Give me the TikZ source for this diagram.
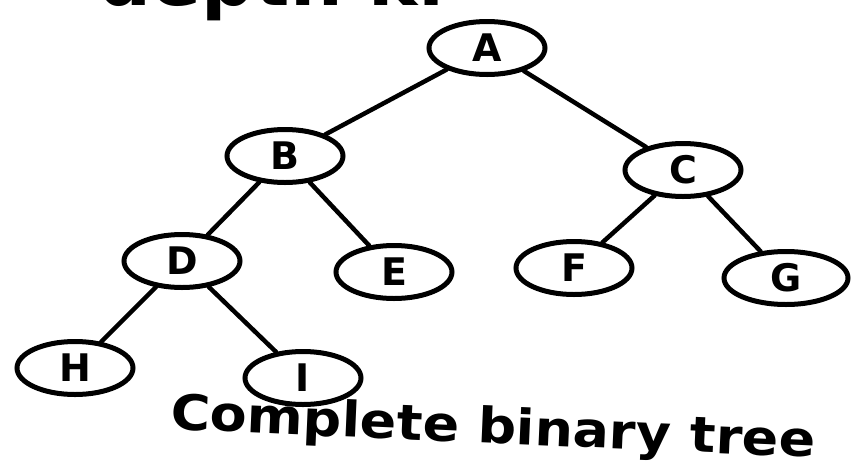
\documentclass[tikz,border=0pt]{standalone}
\usepackage{fontspec}
\setmainfont{DejaVu Sans}
\usetikzlibrary{shapes.geometric}
\tikzset{
  treenode/.style={ellipse, draw=black, line width=5pt, inner sep=0pt,
    minimum width=116pt, minimum height=53pt, font=\fontsize{38}{38}\selectfont\bfseries},
  edge/.style={line width=4.5pt, line cap=round},
  caption/.style={font=\fontsize{49}{49}\selectfont\bfseries, inner sep=0pt},
  headtext/.style={font=\fontsize{74}{74}\selectfont\bfseries, inner sep=0pt}
}
\begin{document}
\begin{tikzpicture}[x=1pt,y=-1pt]
\useasboundingbox (0,0) rectangle (852,461);
\begin{scope}
\clip (0,0) rectangle (852,461);
\node[headtext, anchor=base east] (head) at (446,5) {depth k.};
\end{scope}
\node[treenode] (A) at (487,48) {A};
\node[treenode] (B) at (285,156) {B};
\node[treenode] (C) at (683,170) {C};
\node[treenode] (D) at (182,261) {D};
\node[treenode] (E) at (394,272) {E};
\node[treenode] (F) at (574,268) {F};
\node[treenode, minimum width=124pt] (G) at (786,278) {G};
\node[treenode] (H) at (75,368) {H};
\node[treenode] (I) at (303,378) {I};
\draw[edge] (A) -- (B);
\draw[edge] (A) -- (C);
\draw[edge] (B) -- (D);
\draw[edge] (B) -- (E);
\draw[edge] (C) -- (F);
\draw[edge] (C) -- (G);
\draw[edge] (D) -- (H);
\draw[edge] (D) -- (I);
\node[caption, rotate=-2.5, xscale=1.1] (cap) at (493,430) {Complete binary tree};
\end{tikzpicture}
\end{document}
